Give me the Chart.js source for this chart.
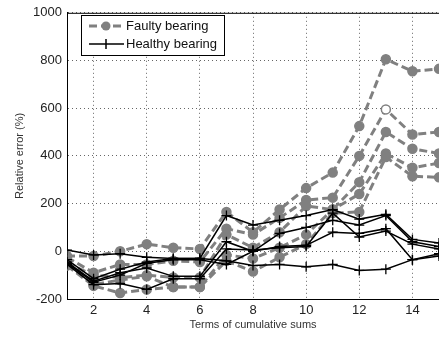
<!DOCTYPE html>
<html>
<head>
<meta charset="utf-8">
<script src="https://cdn.jsdelivr.net/npm/chart.js@4/dist/chart.umd.min.js"></script>
<style>
  html, body { margin: 0; padding: 0; background: #fff; }
  #wrap { position: relative; width: 439px; height: 342px; }
</style>
</head>
<body>
<div id="wrap"><canvas id="errChart" width="439" height="342"></canvas></div>
<script>
// x values (terms of cumulative sums)
var terms = [1, 2, 3, 4, 5, 6, 7, 8, 9, 10, 11, 12, 13, 14, 15];
var xTickValues = [2, 4, 6, 8, 10, 12, 14];
var yTickValues = [-200, 0, 200, 400, 600, 800, 1000];
var seriesNames = ['Faulty bearing', 'Healthy bearing'];

// faulty bearing runs (gray dashed, circles)
var faulty1 = [-20, -20, 0, 30, 15, 10, 165, 80, 175, 265, 330, 525, 805, 755, 765];
var faulty2 = [-25, -90, -55, -55, -40, -45, 95, 70, 140, 215, 225, 400, 595, 490, 500];
var faulty3 = [-50, -100, -110, -100, -110, -110, 70, 15, 80, 190, 175, 290, 500, 430, 410];
var faulty4 = [-60, -145, -175, -160, -150, -150, -15, -30, 15, 70, 175, 240, 410, 350, 370];
var faulty5 = [-55, -140, -120, -105, -150, -150, -40, -85, -25, 30, 160, 165, 395, 315, 310];

// healthy bearing runs (black, plus markers)
var healthy1 = [-35, -115, -75, -45, -30, -30, 150, 110, 130, 150, 175, 135, 155, 50, 35];
var healthy2 = [-45, -125, -90, -70, -105, -105, 40, 0, 75, 100, 130, 110, 150, 40, 20];
var healthy3 = [-55, -140, -135, -160, -115, -115, 10, 5, 15, 20, 160, 60, 85, 30, 10];
var healthy4 = [5, -15, -10, -25, -30, -30, -40, -60, -55, -65, -55, -80, -75, -35, -20];
var healthy5 = [-50, -130, -100, -50, -35, -35, -55, 0, 20, 25, 80, 75, 95, -35, -10];

var gray = 'rgb(128,128,128)';
var fontFam = '"Liberation Sans", Arial, sans-serif';

function pts(vals) {
    return terms.map(function(t, i) { return { x: t, y: vals[i] }; });
}

function faultySet(vals, openIdx) {
    var fill = vals.map(function(v, i) { return i === openIdx ? '#fff' : gray; });
    return {
        label: seriesNames[0],
        data: pts(vals),
        borderColor: gray,
        borderWidth: 3,
        borderDash: [8, 4],
        pointStyle: 'circle',
        pointRadius: 4.5,
        pointBackgroundColor: fill,
        pointBorderColor: gray,
        pointBorderWidth: 1.5,
        tension: 0,
        order: 2
    };
}

function healthySet(vals) {
    return {
        label: seriesNames[1],
        data: pts(vals),
        borderColor: '#000',
        borderWidth: 1.5,
        pointStyle: 'cross',
        pointRadius: 5,
        pointBorderColor: '#000',
        pointBorderWidth: 1.3,
        tension: 0,
        order: 1
    };
}

// MATLAB-like box top + legend drawn inside the axes
var boxAndLegend = {
    id: 'boxAndLegend',
    afterDraw: function(chart) {
        var ctx = chart.ctx;
        var a = chart.chartArea;
        ctx.save();
        ctx.strokeStyle = '#000';
        ctx.lineWidth = 1;
        ctx.beginPath();
        ctx.moveTo(a.left, a.top + 0.5);
        ctx.lineTo(a.right, a.top + 0.5);
        ctx.stroke();

        // legend box
        ctx.fillStyle = '#fff';
        ctx.fillRect(81, 15, 143, 40);
        ctx.strokeRect(81.5, 15.5, 143, 40);

        // faulty sample
        ctx.strokeStyle = gray;
        ctx.lineWidth = 3;
        ctx.setLineDash([8, 4]);
        ctx.beginPath();
        ctx.moveTo(89, 26);
        ctx.lineTo(124, 26);
        ctx.stroke();
        ctx.setLineDash([]);
        ctx.fillStyle = gray;
        ctx.beginPath();
        ctx.arc(106, 26, 4.5, 0, Math.PI * 2);
        ctx.fill();

        // healthy sample
        ctx.strokeStyle = '#000';
        ctx.lineWidth = 1.5;
        ctx.beginPath();
        ctx.moveTo(89, 44);
        ctx.lineTo(124, 44);
        ctx.moveTo(106, 39);
        ctx.lineTo(106, 49);
        ctx.stroke();

        ctx.fillStyle = '#111';
        ctx.font = '13px ' + fontFam;
        ctx.textBaseline = 'middle';
        ctx.textAlign = 'left';
        ctx.fillText(seriesNames[0], 126, 26);
        ctx.fillText(seriesNames[1], 126, 44);
        ctx.restore();
    }
};

var ctxErr = document.getElementById('errChart').getContext('2d');
var errChart = new Chart(ctxErr, {
    type: 'line',
    data: {
        datasets: [
            healthySet(healthy1), healthySet(healthy2), healthySet(healthy3),
            healthySet(healthy4), healthySet(healthy5),
            faultySet(faulty1, -1), faultySet(faulty2, 12), faultySet(faulty3, -1),
            faultySet(faulty4, -1), faultySet(faulty5, -1)
        ]
    },
    options: {
        responsive: false,
        animation: false,
        devicePixelRatio: 1,
        layout: { autoPadding: false, padding: { top: 6, right: 0, left: 0, bottom: 0 } },
        plugins: {
            legend: { display: false },
            tooltip: { enabled: false }
        },
        scales: {
            x: {
                type: 'linear',
                min: 1,
                max: 15,
                afterBuildTicks: function(axis) {
                    axis.ticks = xTickValues.map(function(v) { return { value: v }; });
                },
                afterFit: function(axis) { axis.height = 43; },
                grid: { color: '#666', lineWidth: 1, drawTicks: false },
                border: { color: '#000', width: 1, dash: [1, 3] },
                ticks: {
                    color: '#222',
                    padding: 4,
                    maxRotation: 0,
                    callback: function(v) { return String(v); },
                    font: { family: fontFam, size: 13 }
                },
                title: {
                    display: true,
                    text: 'Terms of cumulative sums',
                    color: '#333',
                    padding: { top: 0, bottom: 10 },
                    font: { family: fontFam, size: 11 }
                }
            },
            y: {
                min: -200,
                max: 1000,
                afterBuildTicks: function(axis) {
                    axis.ticks = yTickValues.map(function(v) { return { value: v }; });
                },
                afterFit: function(axis) { axis.width = 67; },
                grid: { color: '#666', lineWidth: 1, drawTicks: false },
                border: { color: '#000', width: 1, dash: [1, 3] },
                ticks: {
                    color: '#222',
                    padding: 5,
                    callback: function(v) { return String(v); },
                    font: { family: fontFam, size: 13 }
                },
                title: {
                    display: true,
                    text: 'Relative error (%)',
                    color: '#333',
                    padding: { top: 13, bottom: 0 },
                    font: { family: fontFam, size: 11 }
                }
            }
        }
    },
    plugins: [boxAndLegend]
});
</script>
</body>
</html>
